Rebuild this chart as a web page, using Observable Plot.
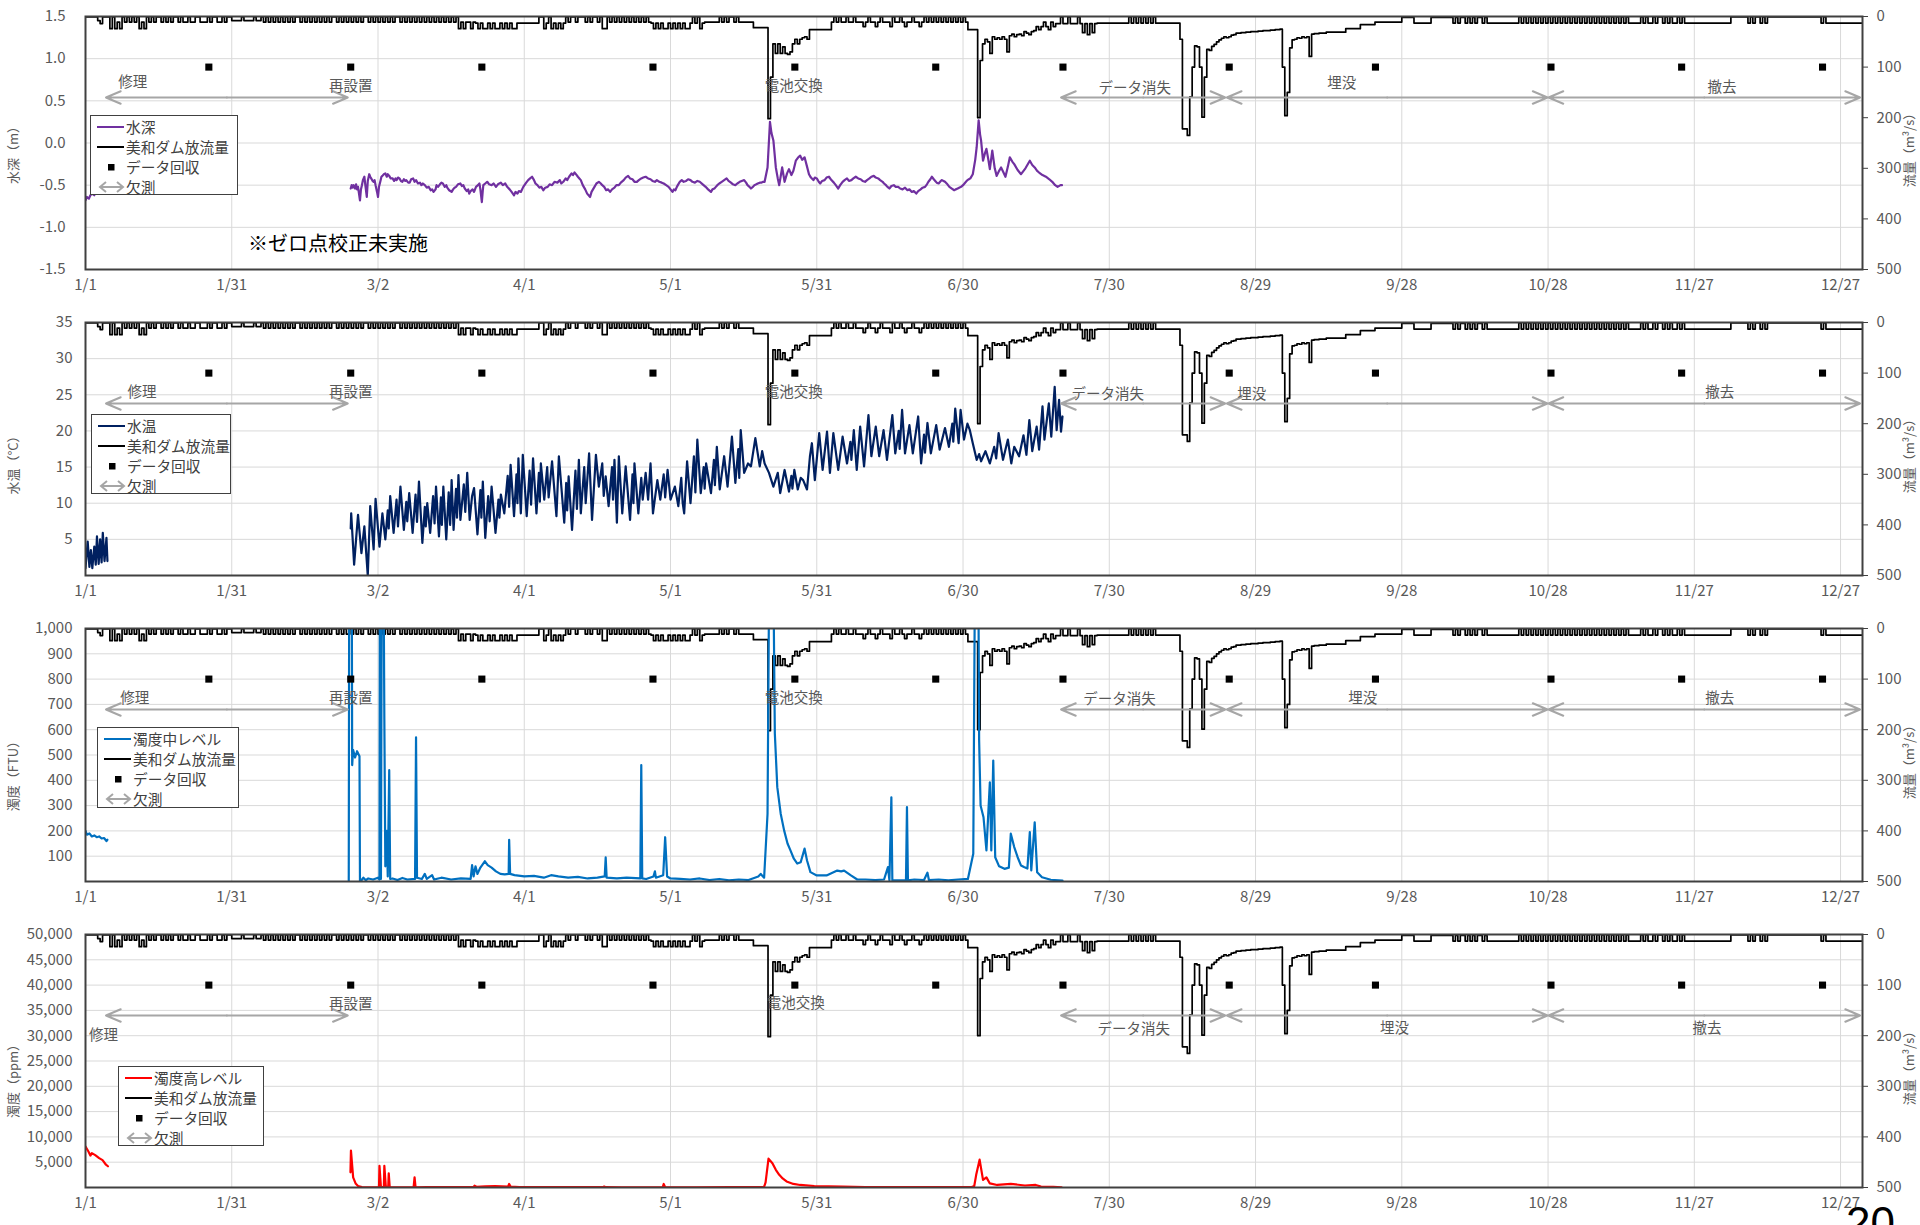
<!DOCTYPE html>
<html><head><meta charset="utf-8">
<script src="https://cdn.jsdelivr.net/npm/d3@7"></script>
<script src="https://cdn.jsdelivr.net/npm/@observablehq/plot@0.6"></script>
<style>
body{margin:0;width:1920px;height:1225px;overflow:hidden;background:#fff;position:relative;font-family:"Noto Sans CJK JP","Noto Sans",sans-serif;}
.panel{position:absolute;left:0;width:1920px;height:306px;}
.legend{position:absolute;border:1.5px solid #404040;background:#fff;box-sizing:border-box;color:#404040;font-size:14.7px;padding-top:0.5px;}
.legend .row{height:20px;display:flex;align-items:center;white-space:nowrap;line-height:20px;}
.legend svg{flex:none;}
.note{position:absolute;left:248px;top:231px;font-size:20px;line-height:24px;color:#000;white-space:nowrap;}
.page{position:absolute;left:1846px;top:1201px;font-family:"Liberation Sans",sans-serif;font-size:44px;line-height:44px;color:#000;}
</style></head><body>
<script>
// ---------- time base ----------
const YEAR_START = Date.UTC(2021, 0, 1);
const day = t => new Date(YEAR_START + t * 86400000);
const X_END = 364.5;
const xTickDays = [0, 30, 60, 90, 120, 150, 180, 210, 240, 270, 300, 330, 360];
const xTickLabels = ["1/1","1/31","3/2","4/1","5/1","5/31","6/30","7/30","8/29","9/28","10/28","11/27","12/27"];

// ---------- 美和ダム放流量 (m3/s), half-day values per segment [startDay, values] ----------
const dischargeSegments = [
  [0, [1,1,1,1,1, 8,14,1, 1,1, 24,1,24,11,24,1, 11,1,11,1,11,1, 24,11,24,1,
       11,1,11,1,1,11,1,11,1,11,1,1,11,1,
       11,11,1,11,11,1,1,11,11,11,1,11,1,1,11,11,1,11,1,1,
       8,8,8,8,1,8,8,8,8,1,8,8,1,11]],
  [37, [1,11,1,11,1,11,1,11,1,11,
        1,11,1,1,11,1,11,1,11,1,
        11,1,11,1,11,1,11,1,1,11,
        1,11,1,11,1,11,1,11,1,11,
        1,1,11,1,11,1,11,1,11,1,
        11,1,11,1,1,11,1,11,1,11,
        1,11,1,11,1,11,1,11,1,11,
        1,11,1,11,1,11,1,11,1]],
  [76.5, [24,11,24,11,11,24,11,
          13,24,13,24,24,13,24,13,24,24,13,24,13,24,13,24,24,13,
          13,13,13,13,13,13,13,13,
          1,1,24,13,1,24,
          13,24,13,24,13,
          1,11,1,1,11,1,1,1,11,1,11,1,1,11,1,
          24,24,1,
          11,1,11,1,11,1,11,1,11,1,11,1,11,1,11,1,11,
          13,24,13,24,13,24,24,13,24,13,24,13,24,13,24,24,13,
          1,13,1,24,13,
          11,11,11,11,11,11,
          1,11,1,11,1,1,11,1,11,11,
          11,11,11,11,
          22,22,22,22,22,22]],
  [140, [202,120,54,73,54,73,60,73,75,70,54,45,54,45,42,40,45,
         26,26,26,26,26,26,26,26,26,
         11,1,11,1,11,
         11,1,11,11,1,11,11,11,20,11,1,11,11,20,11,1,11,11,11,20,1,11,11,1,11,20,11,11,1,11,11,20,11,
         1,11,1,11,1,11,1,11,1,11,1,11,1,11,1,11,1,11,
         26,26,26,26]],
  [183, [200,87,54,45,50,73, 40,45,42,45,40, 45, 70,
         38,35,40,36,35,38,30,33,36,30,28,
         20,26,20,11,20,26,11,20,14,
         14,1,14,14,1,14,14,14,1,14,
         32,14,36,14,32,14,
         13,13,13,13,13,13,13,13,13,13,13,13,13,
         1,13,1,13,1,13,1,13,1,13,1,13,
         13,13,13,13,13,13,13,13,13,
         45]],
  [225, [222,222,235,159,100,58,60,100,199,120,65,67,59,55,50,46,43,
         40,42,40,37,36,
         33,33,32,32,31,31,30,30,30,29,29,28,28,28,27,27,26,26,25,
         100,196,150,62,46,
         45,42,43,40,42,40,
         79,
         35,34,34,33,33,33,
         31,31,31,31,31,31,31,31,
         24,24,24,24,24,24,
         16,16,16,16,16,16,
         11,11,11,11,11,11,11,11,11,11,11]],
  [270, [2,2,2,2,2,13,13,13,13,13,13,13,2,2,2,2,2,2,2,2,2,
         13,2,13,2,2,13,2,13,2,13,2,2,13,2,13,
         13,13,13,13,13,13,13,13,13,13,13,13,
         1,13,1,13,1,13,1,13,1,13,1,13,1,13,1,13,1,13,1,13,1,13,1,13,1,13,1,13,1,13,1,13,1,13,1,13,1,13,1,13,1,13,1,13,1,
         13,13,13,13,13,
         1,13,1,13,13,1,13,1,1,13,1,13,1,13,13,1,13,1,
         13,13,13,13,13,13,13,13,13,13,13,13,13,13,13,13,13,13,13,
         1,1,1,1,1,1,1,
         13,1,13,1,1,13,1,13,
         1,1,1,1,1,1,1,1,1,1,1,1,1,1,1,1,1,1,1,1,1,1,
         13,1,13,
         13,13,13,13,13,13,13,13,13,13,13,13,13,13,13,
         1]]
];

// ---------- events on the secondary axis ----------
const collectionDays = [25.3, 54.4, 81.3, 116.4, 145.5, 174.4, 200.5, 234.6, 264.6, 300.6, 327.4, 356.3];
const collectionLevel = 100;
const gapSpans = [[4.2, 53.8], [200.1, 233.8], [234.1, 299.9], [300.1, 364]];
const gapLevel = 160;
const noteNames = ["修理", "再設置", "電池交換", "データ消失", "埋没", "撤去"];
const noteDays = [[9.7, 54.4, 145.3, 215.2, 257.7, 335.7],
                  [11.6, 54.4, 145.3, 209.7, 239.2, 335.2],
                  [10.1, 54.4, 145.3, 212.1, 262.0, 335.2],
                  [3.7, 54.4, 145.7, 215.0, 268.5, 332.6]];
const noteLevels = [[131, 138, 138, 142, 133, 140],
                    [138, 138, 138, 142, 142, 138],
                    [138, 138, 138, 140, 138, 138],
                    [199, 138, 136, 188, 186, 186]];

// ---------- 水深 (m) ----------
const depthA = [[0,-0.68],[0.3,-0.64],[0.7,-0.66],[1.0,-0.62],[1.4,-0.6],[1.8,-0.62]];
const depthB = [[54.4,-0.54],[54.6,-0.5],[54.8,-0.53],[55.0,-0.5],[55.3,-0.54],[55.5,-0.49],[55.7,-0.55],[55.9,-0.52],[56.1,-0.6],[56.3,-0.68],[56.5,-0.55],[56.7,-0.5],[56.9,-0.44],[57.2,-0.4],[57.4,-0.5],[57.7,-0.64],[57.9,-0.45],[58.2,-0.37],[58.4,-0.4],[58.6,-0.42],[58.9,-0.45],[59.1,-0.46],[59.3,-0.44],[59.5,-0.5],[59.8,-0.58],[60.0,-0.64],[60.2,-0.52],[60.5,-0.45],[60.7,-0.4],[60.9,-0.39],[61.2,-0.37],[61.5,-0.36],[61.8,-0.4],[62.0,-0.37],[62.3,-0.39],[62.6,-0.42],[63.0,-0.42],[63.3,-0.45],[63.6,-0.42],[63.8,-0.44],[64.1,-0.41],[64.4,-0.42],[64.7,-0.45],[65.0,-0.46],[65.3,-0.43],[65.6,-0.45],[65.8,-0.44],[66.2,-0.47],[66.5,-0.47],[66.8,-0.43],[67.2,-0.42],[67.5,-0.46],[67.8,-0.44],[68.2,-0.48],[68.6,-0.47],[68.9,-0.5],[69.2,-0.48],[69.6,-0.5],[70.0,-0.53],[70.4,-0.52],[70.8,-0.56],[71.1,-0.55],[71.4,-0.58],[71.8,-0.55],[72.0,-0.5],[72.3,-0.52],[72.7,-0.49],[73.0,-0.47],[73.3,-0.48],[73.7,-0.52],[74.0,-0.5],[74.2,-0.53],[74.6,-0.56],[75.1,-0.58],[75.4,-0.55],[75.7,-0.53],[76.0,-0.52],[76.4,-0.49],[76.9,-0.48],[77.2,-0.51],[77.5,-0.5],[77.8,-0.54],[78.2,-0.57],[78.5,-0.55],[78.7,-0.6],[79.0,-0.57],[79.4,-0.55],[79.7,-0.58],[80.1,-0.52],[80.5,-0.5],[80.8,-0.48],[81.0,-0.55],[81.3,-0.7],[81.5,-0.56],[81.6,-0.5],[82.0,-0.48],[82.4,-0.46],[82.8,-0.49],[83.3,-0.5],[83.7,-0.48],[84.2,-0.52],[84.6,-0.49],[85.2,-0.47],[85.6,-0.5],[86.1,-0.48],[86.5,-0.52],[87.0,-0.55],[87.4,-0.58],[87.9,-0.62],[88.2,-0.58],[88.6,-0.6],[88.9,-0.57],[89.3,-0.58],[89.8,-0.52],[90.4,-0.47],[90.8,-0.44],[91.2,-0.42],[91.6,-0.4],[92.0,-0.44],[92.3,-0.48],[92.7,-0.5],[93.1,-0.53],[93.5,-0.52],[93.9,-0.56],[94.3,-0.53],[94.8,-0.52],[95.2,-0.49],[95.7,-0.5],[96.2,-0.46],[96.8,-0.47],[97.3,-0.44],[97.6,-0.48],[98.0,-0.46],[98.5,-0.42],[98.8,-0.44],[99.2,-0.4],[99.7,-0.36],[100.0,-0.38],[100.3,-0.35],[100.6,-0.37],[101.0,-0.4],[101.3,-0.42],[101.6,-0.44],[102.0,-0.5],[102.5,-0.55],[102.9,-0.6],[103.2,-0.62],[103.5,-0.64],[103.8,-0.58],[104.1,-0.55],[104.4,-0.52],[104.8,-0.48],[105.3,-0.46],[105.7,-0.48],[106.0,-0.5],[106.4,-0.52],[106.8,-0.56],[107.2,-0.55],[107.6,-0.58],[108.0,-0.55],[108.5,-0.53],[108.9,-0.5],[109.4,-0.5],[109.8,-0.47],[110.4,-0.44],[110.8,-0.41],[111.3,-0.39],[111.7,-0.42],[112.2,-0.43],[112.6,-0.46],[113.1,-0.46],[113.5,-0.44],[114.0,-0.42],[114.4,-0.41],[114.9,-0.4],[115.4,-0.42],[115.9,-0.43],[116.3,-0.45],[116.8,-0.46],[117.2,-0.44],[117.7,-0.46],[118.2,-0.47],[118.6,-0.48],[119.1,-0.5],[119.6,-0.52],[120.0,-0.55],[120.4,-0.58],[120.7,-0.55],[121.0,-0.56],[121.3,-0.52],[121.5,-0.5],[121.9,-0.46],[122.3,-0.44],[122.7,-0.46],[123.2,-0.45],[123.6,-0.43],[124.1,-0.44],[124.5,-0.46],[125.0,-0.47],[125.5,-0.45],[126.0,-0.46],[126.6,-0.49],[127.2,-0.52],[127.7,-0.55],[128.3,-0.58],[128.6,-0.55],[129.0,-0.54],[129.3,-0.52],[129.6,-0.5],[130.0,-0.48],[130.5,-0.46],[131.0,-0.44],[131.5,-0.42],[131.9,-0.45],[132.4,-0.47],[132.8,-0.49],[133.3,-0.5],[133.7,-0.48],[134.2,-0.46],[134.6,-0.45],[135.1,-0.44],[135.5,-0.47],[135.8,-0.5],[136.2,-0.52],[136.5,-0.54],[136.9,-0.52],[137.2,-0.5],[137.6,-0.49],[137.9,-0.48],[138.3,-0.47],[138.6,-0.47],[139.0,-0.46],[139.3,-0.46],[139.9,-0.29],[140.4,0.25],[140.7,0.12],[141.1,0.03],[141.6,-0.29],[142.0,-0.42],[142.3,-0.5],[142.9,-0.29],[143.4,-0.46],[143.9,-0.36],[144.3,-0.31],[144.8,-0.38],[145.2,-0.33],[145.7,-0.21],[146.2,-0.17],[146.6,-0.15],[147.0,-0.2],[147.5,-0.17],[148.0,-0.28],[148.4,-0.37],[148.8,-0.41],[149.3,-0.44],[149.6,-0.41],[150.0,-0.42],[150.4,-0.46],[150.7,-0.48],[151.1,-0.45],[151.6,-0.44],[152.0,-0.41],[152.5,-0.4],[153.0,-0.44],[153.5,-0.47],[153.9,-0.5],[154.4,-0.54],[154.8,-0.5],[155.3,-0.46],[155.7,-0.44],[156.2,-0.42],[156.6,-0.45],[157.1,-0.44],[157.5,-0.42],[158.0,-0.4],[158.5,-0.42],[159.0,-0.43],[159.4,-0.45],[159.9,-0.46],[160.3,-0.44],[160.8,-0.42],[161.2,-0.4],[161.7,-0.39],[162.1,-0.41],[162.6,-0.42],[163.0,-0.44],[163.5,-0.46],[163.8,-0.48],[164.2,-0.5],[164.5,-0.52],[164.9,-0.54],[165.3,-0.51],[165.8,-0.5],[166.2,-0.52],[166.7,-0.52],[167.1,-0.54],[167.6,-0.55],[168.1,-0.53],[168.6,-0.56],[169.0,-0.55],[169.5,-0.58],[169.9,-0.57],[170.4,-0.6],[170.8,-0.57],[171.3,-0.55],[171.7,-0.53],[172.2,-0.52],[172.6,-0.49],[172.9,-0.46],[173.3,-0.43],[173.6,-0.4],[174.0,-0.43],[174.3,-0.45],[174.6,-0.47],[175.0,-0.48],[175.3,-0.46],[175.6,-0.44],[176.0,-0.45],[176.3,-0.46],[176.8,-0.49],[177.2,-0.52],[177.7,-0.54],[178.2,-0.56],[178.5,-0.55],[178.9,-0.54],[179.2,-0.53],[179.6,-0.52],[180.0,-0.5],[180.3,-0.48],[180.6,-0.46],[180.9,-0.44],[181.2,-0.43],[181.5,-0.42],[182.0,-0.37],[182.5,-0.2],[182.8,-0.05],[183.2,0.27],[183.5,0.1],[183.7,0.03],[184.1,-0.21],[184.5,-0.12],[184.8,-0.07],[185.2,-0.2],[185.5,-0.31],[186.0,-0.09],[186.5,-0.3],[186.9,-0.39],[187.4,-0.33],[187.8,-0.29],[188.3,-0.35],[188.7,-0.4],[189.2,-0.28],[189.6,-0.17],[190.1,-0.22],[190.5,-0.25],[191.2,-0.32],[191.9,-0.37],[192.8,-0.3],[193.7,-0.21],[194.2,-0.26],[194.7,-0.29],[195.2,-0.33],[195.6,-0.35],[196.3,-0.38],[197.0,-0.4],[197.7,-0.43],[198.3,-0.46],[198.9,-0.5],[199.4,-0.52],[200.0,-0.5],[200.3,-0.5]];

// ---------- 水温 (°C) ----------
const tempA = [[0,1.0],[0.45,4.7],[0.8,1.2],[1.1,3.5],[1.4,1.0],[1.8,4.0],[2.1,1.5],[2.35,5.4],[2.7,1.6],[3.0,5.0],[3.3,1.8],[3.55,5.9],[3.9,2.0],[4.3,5.2],[4.5,2.0]];
const tempB = [[54.4,6.5],[54.5,8.6],[55.1,1.5],[55.5,5.0],[55.9,8.4],[56.6,3.1],[57.2,6.8],[57.9,0.0],[58.4,9.6],[59.1,3.6],[59.5,10.6],[60.3,4.0],[60.9,8.6],[61.5,5.0],[62.0,9.0],[62.2,6.5],[62.5,11.0],[63.2,5.9],[63.8,10.5],[64.1,6.8],[64.6,12.3],[65.3,6.3],[65.8,10.2],[66.0,7.5],[66.4,11.4],[67.1,5.9],[67.7,11.2],[68.0,7.4],[68.4,13.0],[69.1,4.5],[69.6,9.5],[69.8,6.8],[70.1,10.0],[70.7,5.9],[71.3,11.0],[71.6,7.2],[71.9,12.3],[72.5,5.4],[72.9,10.8],[73.1,7.0],[73.4,12.3],[74.0,5.0],[74.5,11.5],[74.8,7.0],[75.1,13.2],[75.5,6.3],[76.0,12.0],[76.2,8.0],[76.5,13.9],[76.9,7.7],[77.6,12.6],[77.9,8.8],[78.3,14.2],[78.8,7.7],[79.3,11.0],[79.7,12.1],[80.4,5.7],[81.0,11.8],[81.2,8.0],[81.5,13.0],[82.0,5.2],[82.6,11.0],[82.9,7.5],[83.3,12.3],[84.1,5.9],[84.7,10.5],[84.9,8.0],[85.2,11.2],[85.9,8.6],[86.6,13.8],[86.9,9.5],[87.2,15.3],[87.9,8.2],[88.4,14.0],[88.6,10.0],[88.8,16.2],[89.3,8.6],[89.7,16.7],[90.5,8.2],[91.1,14.5],[91.4,9.8],[91.8,16.2],[92.5,8.6],[93.0,14.2],[93.2,10.2],[93.4,15.5],[94.1,10.5],[94.7,15.0],[95.0,10.8],[95.7,15.8],[96.6,8.2],[97.1,16.5],[98.2,7.3],[98.6,12.8],[98.8,9.0],[99.1,13.7],[99.8,6.3],[100.5,14.5],[100.8,9.2],[101.2,16.0],[101.6,8.6],[102.3,15.0],[102.6,10.0],[103.3,16.9],[103.9,7.7],[104.7,16.7],[105.3,12.3],[106.0,15.5],[106.3,11.0],[106.7,13.7],[107.3,9.6],[108.0,15.0],[108.2,10.5],[108.5,16.0],[109.0,7.3],[109.4,16.5],[110.1,8.6],[110.8,15.1],[111.7,7.7],[112.2,14.0],[112.4,10.0],[112.6,15.5],[113.4,8.6],[114.0,13.5],[114.3,10.5],[114.9,14.2],[115.4,10.5],[115.9,15.5],[116.4,8.6],[117.3,13.2],[117.9,10.5],[118.6,14.0],[118.9,10.8],[119.4,14.6],[120.0,10.5],[120.9,12.3],[121.6,9.6],[122.2,13.5],[122.5,10.0],[122.8,8.6],[123.4,15.8],[124.1,10.0],[124.8,16.5],[125.1,11.5],[125.5,18.8],[126.2,11.4],[126.8,15.0],[127.0,12.0],[127.3,15.5],[128.3,11.4],[128.9,16.0],[129.1,12.5],[129.5,17.8],[130.1,11.9],[131.0,16.5],[131.7,12.3],[132.6,19.2],[133.3,12.8],[133.9,17.5],[134.1,13.5],[134.4,20.1],[135.1,14.2],[135.9,15.5],[136.5,15.1],[137.4,19.0],[138.3,15.1],[138.8,17.2],[139.3,15.5],[140.2,14.2],[141.1,12.3],[142.0,14.2],[142.5,11.4],[143.4,14.6],[144.3,11.6],[144.8,13.8],[145.0,12.0],[145.4,14.6],[146.1,11.9],[146.7,13.5],[147.2,13.2],[148.0,11.9],[148.6,16.5],[149.0,18.3],[149.6,13.2],[150.5,19.7],[151.2,14.6],[152.1,19.9],[152.7,14.2],[153.4,19.7],[154.4,14.6],[155.3,19.2],[156.2,15.5],[156.9,18.5],[157.1,16.0],[157.6,20.1],[158.2,14.6],[158.9,20.6],[159.7,15.1],[160.6,22.2],[161.2,16.5],[162.1,20.6],[162.8,16.5],[163.7,20.1],[164.4,16.0],[165.5,22.2],[166.1,16.9],[166.8,20.0],[167.0,17.5],[167.5,22.9],[168.1,16.9],[169.0,20.8],[169.7,16.9],[170.8,22.0],[171.4,15.5],[172.0,19.5],[172.2,17.0],[172.7,21.1],[173.4,16.9],[174.5,20.8],[175.2,17.4],[176.3,20.4],[177.1,17.8],[177.8,21.0],[178.0,18.5],[178.4,23.1],[179.1,18.3],[179.5,22.9],[180.2,18.8],[180.9,21.0],[181.4,20.1],[182.0,18.3],[182.8,16.0],[183.3,16.8],[183.7,15.8],[184.6,17.2],[185.5,15.5],[186.4,17.8],[186.8,16.2],[187.3,19.7],[188.2,16.0],[189.2,18.8],[189.9,15.5],[190.5,17.8],[191.5,16.5],[192.4,19.4],[193.0,16.7],[193.6,21.5],[194.2,17.2],[195.1,20.6],[195.6,17.4],[196.3,23.4],[196.7,18.8],[197.6,23.8],[198.1,19.2],[198.8,26.1],[199.2,20.1],[199.7,24.3],[200.1,19.9],[200.4,22.0]];

// ---------- 濁度中レベル (FTU) ----------
const turbA = [[0,200],[0.3,185],[0.8,190],[1.3,178],[1.8,182],[2.3,175],[2.8,178],[3.3,170],[3.8,172],[4.3,160],[4.5,165]];
const turbB = [[54.0,0],[54.1,1400],[54.6,1400],[54.7,460],[54.9,520],[55.3,490],[55.7,515],[56.2,495],[56.3,0],[56.6,5],[57,15],[57.5,5],[58,12],[59,8],[60,15],[60.3,8],[60.4,1400],[60.6,10],[60.8,1400],[61.1,1400],[61.3,640],[61.5,60],[61.8,200],[62.0,20],[62.3,440],[62.5,10],[63,12],[64,6],[65,14],[66,8],[67.6,10],[67.8,570],[68.0,15],[69,10],[69.6,30],[70,10],[71.1,25],[71.5,8],[73,15],[75,8],[77,12],[79,10],[79.3,65],[79.6,20],[80,60],[80.4,30],[81,55],[81.9,80],[82.5,65],[83.3,55],[84.2,40],[85.1,30],[86,28],[86.8,30],[86.9,165],[87.1,30],[88,25],[90,20],[92,22],[94,15],[95.5,25],[97,20],[99,15],[101,18],[103,12],[105,15],[106.5,20],[106.7,95],[106.9,15],[109,12],[111,15],[113.8,12],[114,460],[114.2,12],[115,10],[116.5,20],[116.8,40],[117,15],[118.5,25],[118.9,175],[119.3,20],[120,12],[122,10],[124,8],[126,12],[128,6],[130,10],[132,5],[134,8],[136,6],[138,20],[138.5,30],[139.2,15],[139.9,268],[140.3,1400],[141.0,1400],[141.4,584],[141.9,373],[142.6,268],[143.3,202],[144,150],[144.6,123],[145.3,90],[146,71],[146.7,76],[147.5,130],[148,83],[148.7,37],[150,24],[152,24],[154.2,43],[155,40],[155.6,43],[157,24],[158.3,8],[160,8],[162,6],[163.8,8],[164.6,57],[164.9,5],[165.3,333],[165.5,5],[168.3,6],[168.5,294],[168.7,5],[170,8],[172,6],[172.7,35],[173,6],[175,8],[177,5],[179,8],[181,10],[182.1,110],[182.5,1400],[183.1,1400],[183.3,560],[183.6,300],[184.2,254],[184.8,123],[185.5,392],[185.8,123],[186.2,478],[186.6,96],[187.4,60],[188.5,50],[189.4,55],[189.8,189],[190.5,136],[191.2,96],[191.9,63],[192.5,57],[193.2,51],[193.7,195],[194,44],[194.7,234],[195.2,37],[196.2,17],[198,7],[200.4,4]];

// ---------- 濁度高レベル (ppm) ----------
const turbHA = [[0,8100],[0.6,7100],[1.0,6300],[1.3,6800],[2.0,6400],[2.8,5800],[3.5,5400],[4.2,4500],[4.6,4200]];
const turbHB = [[54.35,3000],[54.45,7300],[54.9,2000],[55.4,800],[55.9,300],[56.7,100],[58,50],[60.2,60],[60.3,4300],[60.6,100],[61.2,100],[61.3,4300],[61.6,200],[62.1,150],[62.2,2800],[62.4,100],[64,50],[67.3,50],[67.5,2000],[67.7,50],[70,60],[75,80],[79.6,90],[79.8,350],[80.2,150],[82,250],[84,300],[86.7,200],[86.9,700],[87.2,200],[89,100],[95,60],[106.2,60],[106.4,200],[106.7,60],[110,50],[118.4,60],[118.6,700],[118.9,80],[125,50],[139.2,150],[139.5,1000],[140.1,5700],[140.9,4800],[141.6,3500],[142.3,2500],[143,1800],[143.8,1200],[145.2,700],[146.6,500],[149.5,300],[155.3,200],[160,100],[165,80],[170,60],[175,60],[181.8,80],[182.3,300],[182.7,2500],[183.4,5500],[184.1,1500],[184.8,2000],[185.5,800],[187,500],[189.8,700],[192.7,400],[194.9,500],[196,200],[198.5,150],[200.2,50]];

// ---------- axes ----------
const rightTicks = [0, 100, 200, 300, 400, 500];
const panels = [
  {name: "水深", title: "水深（m）", color: "#7030A0", domain: [-1.5, 1.5],
   ticks: [-1.5,-1,-0.5,0,0.5,1,1.5], tickLabels: ["-1.5","-1.0","-0.5","0.0","0.5","1.0","1.5"], segs: [depthA, depthB]},
  {name: "水温", title: "水温（°C）", color: "#002060", domain: [0, 35],
   ticks: [5,10,15,20,25,30,35], tickLabels: ["5","10","15","20","25","30","35"], segs: [tempA, tempB]},
  {name: "濁度中レベル", title: "濁度（FTU）", color: "#0070C0", domain: [0, 1000],
   ticks: [100,200,300,400,500,600,700,800,900,1000], tickLabels: ["100","200","300","400","500","600","700","800","900","1,000"], segs: [turbA, turbB]},
  {name: "濁度高レベル", title: "濁度（ppm）", color: "#FF0000", domain: [0, 50000],
   ticks: [5000,10000,15000,20000,25000,30000,35000,40000,45000,50000], tickLabels: ["5,000","10,000","15,000","20,000","25,000","30,000","35,000","40,000","45,000","50,000"], segs: [turbHA, turbHB]}
];
const legendSecond = ["美和ダム放流量", "データ回収", "欠測"];

// ---------- layout (not data) ----------
const PANEL_H = 306;
const titleDy = [9, 13, 18, 17];
const leftPad = [20, 13, 13, 13];
const legendBoxes = [[90,115,148,80],[91,414,140,80],[97,727,142,81],[118,1066,146,80]];
const CJK = "'Noto Sans CJK JP', sans-serif";
const NUM = "'Liberation Sans Narrow', 'Noto Sans CJK JP', sans-serif";

const discharge = dischargeSegments.flatMap(([start, vals]) => vals.map((q, i) => ({t: day(start + i * 0.5), q})));
const xTicks = xTickDays.map(day);

panels.forEach((p, k) => {
  const [y0, y1] = p.domain;
  const toLeft = q => y1 - q / 500 * (y1 - y0);
  const fromLeft = v => (y1 - v) / (y1 - y0) * 500;
  const series = p.segs.flatMap((seg, s) => seg.map(([t, v]) => ({t: day(t), v, seg: s})));
  const labelMap = new Map(p.ticks.map((t, i) => [t, p.tickLabels[i]]));
  const notes = noteNames.map((n, i) => ({n, t: day(noteDays[k][i]), q: noteLevels[k][i]}));
  const halves = gapSpans.flatMap(([a, b]) => [{from: (a + b) / 2, to: a}, {from: (a + b) / 2, to: b}]);
  const chart = Plot.plot({
    width: 1920, height: PANEL_H,
    marginTop: 16, marginBottom: 37, marginLeft: 85, marginRight: 58,
    style: {fontFamily: NUM, fontSize: "15px", color: "#595959", background: "transparent", overflow: "visible"},
    x: {type: "utc", domain: [day(0), day(X_END)], axis: null},
    y: {domain: [y0, y1], axis: null},
    marks: [
      Plot.gridX(xTicks, {stroke: "#d9d9d9", strokeOpacity: 1, strokeWidth: 1}),
      Plot.gridY(p.ticks, {stroke: "#d9d9d9", strokeOpacity: 1, strokeWidth: 1}),
      Plot.axisX(xTicks, {tickSize: 0, tickPadding: 10, tickFormat: d => xTickLabels[xTicks.findIndex(x => +x === +d)], label: null}),
      Plot.axisY(p.ticks, {anchor: "left", tickSize: 0, tickPadding: leftPad[k], tickFormat: v => labelMap.get(v), label: null}),
      Plot.axisY(rightTicks.map(toLeft), {anchor: "right", tickSize: 5, tickPadding: 9, stroke: "#404040",
        tickFormat: v => String(Math.round(fromLeft(v))), label: null}),
      Plot.line(discharge, {x: "t", y: d => toLeft(d.q), curve: "step-after", stroke: "#000", strokeWidth: 1.7, clip: true}),
      Plot.line(series, {x: "t", y: "v", z: "seg", stroke: p.color, strokeWidth: 2.2, clip: true}),
      Plot.dot(collectionDays, {x: d => day(d), y: () => toLeft(collectionLevel), symbol: "square", r: 4, fill: "#000", stroke: null}),
      Plot.arrow(halves, {x1: d => day(d.from), x2: d => day(d.to), y1: () => toLeft(gapLevel), y2: () => toLeft(gapLevel),
        stroke: "#a6a6a6", strokeWidth: 2, headLength: 12, headAngle: 46}),
      Plot.text(notes, {x: "t", y: d => toLeft(d.q), text: "n", fill: "#595959", fontSize: 14.5, fontFamily: CJK}),
      Plot.text([p.title], {frameAnchor: "left", textAnchor: "middle", text: d => d, rotate: -90, dx: -72, dy: titleDy[k], fill: "#595959", fontSize: 13, fontFamily: CJK}),
      Plot.text(["流量（m³/s）"], {frameAnchor: "right", textAnchor: "middle", text: d => d, rotate: -90, dx: 47, dy: 4, fill: "#595959", fontSize: 13, fontFamily: CJK}),
      Plot.frame({stroke: "#404040", strokeWidth: 2})
    ]
  });
  const div = document.createElement("div");
  div.className = "panel";
  div.style.top = (k * PANEL_H) + "px";
  div.appendChild(chart);
  document.body.appendChild(div);

  // legend
  const [lx, ly, lw, lh] = legendBoxes[k];
  const lg = document.createElement("div");
  lg.className = "legend";
  Object.assign(lg.style, {left: lx + "px", top: ly + "px", width: lw + "px", height: lh + "px"});
  const sw = [
    `<svg width="35" height="20"><line x1="6" x2="33" y1="10" y2="10" stroke="${p.color}" stroke-width="2"/></svg>`,
    `<svg width="35" height="20"><line x1="6" x2="33" y1="10" y2="10" stroke="#000" stroke-width="2"/></svg>`,
    `<svg width="35" height="20"><rect x="17" y="7" width="6.5" height="6.5" fill="#000"/></svg>`,
    `<svg width="35" height="20"><g fill="none" stroke="#a6a6a6" stroke-width="2"><line x1="9" x2="32" y1="10" y2="10"/><polyline points="15,5 9,10 15,15"/><polyline points="26,5 32,10 26,15"/></g></svg>`
  ];
  const names = [p.name, ...legendSecond];
  lg.innerHTML = names.map((n, i) => `<div class="row">${sw[i]}<span>${n}</span></div>`).join("");
  document.body.appendChild(lg);
});

const note = document.createElement("div");
note.className = "note";
note.textContent = "※ゼロ点校正未実施";
document.body.appendChild(note);
const pg = document.createElement("div");
pg.className = "page";
pg.textContent = "20";
document.body.appendChild(pg);
</script>
</body></html>
